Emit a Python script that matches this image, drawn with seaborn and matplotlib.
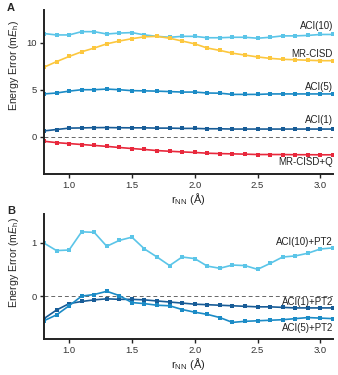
import matplotlib
matplotlib.use('Agg')
import matplotlib.pyplot as plt
import numpy as np
import pandas as pd
import seaborn as sns

# colours
LIGHT = '#5BC5E8'
YELLOW = '#FCC73E'
MID = '#1B8BC6'
DARK = '#175C97'
RED = '#E8283C'

r_nn = [0.8, 0.9, 1.0, 1.1, 1.2, 1.3, 1.4, 1.5, 1.6, 1.7, 1.8, 1.9,
        2.0, 2.1, 2.2, 2.3, 2.4, 2.5, 2.6, 2.7, 2.8, 2.9, 3.0, 3.1]

# panel A
aci10 = [11.0, 10.85, 10.85, 11.2, 11.2, 10.95, 11.05, 11.1, 10.85, 10.7, 10.6, 10.7,
         10.7, 10.55, 10.55, 10.6, 10.6, 10.5, 10.6, 10.75, 10.75, 10.8, 10.9, 10.9]
mrcisd = [7.4, 8.0, 8.55, 9.05, 9.45, 9.9, 10.2, 10.45, 10.65, 10.7, 10.5, 10.2,
          9.9, 9.45, 9.2, 8.9, 8.7, 8.5, 8.35, 8.25, 8.2, 8.15, 8.1, 8.1]
aci5 = [4.55, 4.65, 4.85, 5.0, 5.0, 5.07, 5.0, 4.9, 4.88, 4.85, 4.8, 4.75,
        4.75, 4.65, 4.63, 4.5, 4.5, 4.5, 4.55, 4.55, 4.55, 4.55, 4.55, 4.55]
aci1 = [0.6, 0.75, 0.9, 0.92, 0.95, 0.96, 0.94, 0.93, 0.93, 0.9, 0.9, 0.87,
        0.87, 0.83, 0.83, 0.8, 0.8, 0.8, 0.8, 0.8, 0.8, 0.8, 0.8, 0.8]
mrcisdq = [-0.5, -0.65, -0.75, -0.85, -0.95, -1.05, -1.17, -1.28, -1.38, -1.5, -1.57, -1.64,
           -1.7, -1.78, -1.82, -1.85, -1.88, -1.92, -1.92, -1.92, -1.94, -1.94, -1.95, -1.95]

# panel B
aci10_pt2 = [0.99, 0.85, 0.86, 1.2, 1.19, 0.93, 1.04, 1.1, 0.88, 0.73, 0.57, 0.73,
             0.7, 0.56, 0.52, 0.58, 0.57, 0.5, 0.61, 0.73, 0.75, 0.8, 0.88, 0.9]
aci1_pt2 = [-0.42, -0.26, -0.14, -0.1, -0.07, -0.05, -0.06, -0.06, -0.07, -0.09, -0.11, -0.13,
            -0.15, -0.16, -0.17, -0.18, -0.19, -0.2, -0.2, -0.21, -0.22, -0.22, -0.22, -0.22]
aci5_pt2 = [-0.46, -0.35, -0.18, 0.0, 0.03, 0.09, 0.01, -0.12, -0.14, -0.17, -0.18, -0.25,
            -0.3, -0.34, -0.4, -0.49, -0.47, -0.46, -0.45, -0.44, -0.42, -0.4, -0.41, -0.42]

sns.set_style('ticks')
plt.rcParams['font.family'] = ['Liberation Sans', 'DejaVu Sans']
plt.rcParams['mathtext.fontset'] = 'custom'
plt.rcParams['mathtext.it'] = 'Liberation Sans:italic'
plt.rcParams['mathtext.rm'] = 'Liberation Sans'

fig = plt.figure(figsize=(3.38, 3.75), dpi=100)
ax_a = fig.add_axes([0.130, 0.536, 0.855, 0.437])
ax_b = fig.add_axes([0.130, 0.096, 0.855, 0.333])

def draw(ax, series, label_y):
    for vals, col, label, ly in series:
        df = pd.DataFrame({'r': r_nn, 'e': vals})
        sns.lineplot(data=df, x='r', y='e', ax=ax, color=col, lw=1.2,
                     marker='s', markersize=2.5, markeredgewidth=0)
        ax.text(3.1, ly, label, ha='right', va='center', fontsize=7, color='#222222')
    ax.axhline(0, color='#666666', lw=0.7, ls=(0, (4, 3)), zorder=0)
    ax.set_xlim(0.8, 3.1)
    ax.set_xticks([1.0, 1.5, 2.0, 2.5, 3.0])
    ax.set_xlabel(r'r$_{\rm NN}$ (Å)', fontsize=8, labelpad=1)
    ax.set_ylabel(r'Energy Error (m$E_{\rm h}$)', fontsize=7.6)
    ax.yaxis.set_label_coords(-0.078, label_y)
    ax.tick_params(labelsize=6.8, width=1, length=3, pad=2, color='#222222', labelcolor='#333333')
    for s in ['left', 'bottom']:
        ax.spines[s].set_linewidth(1.4)
        ax.spines[s].set_color('#222222')
    sns.despine(ax=ax)

draw(ax_a, [(aci10, LIGHT, 'ACI(10)', 11.8),
            (mrcisd, YELLOW, 'MR-CISD', 8.85),
            (aci5, MID, 'ACI(5)', 5.3),
            (aci1, DARK, 'ACI(1)', 1.75),
            (mrcisdq, RED, 'MR-CISD+Q', -2.7)], 0.66)
ax_a.set_ylim(-4, 13.5)
ax_a.set_yticks([0, 5, 10])

draw(ax_b, [(aci10_pt2, LIGHT, 'ACI(10)+PT2', 1.01),
            (aci1_pt2, DARK, 'ACI(1)+PT2', -0.11),
            (aci5_pt2, MID, 'ACI(5)+PT2', -0.6)], 0.61)
ax_b.set_ylim(-0.8, 1.53)
ax_b.set_yticks([0, 1])

fig.text(0.02, 0.979, 'A', fontsize=8, fontweight='bold', va='center')
fig.text(0.02, 0.438, 'B', fontsize=8, fontweight='bold', va='center')

fig.savefig('out.png', dpi=100)
